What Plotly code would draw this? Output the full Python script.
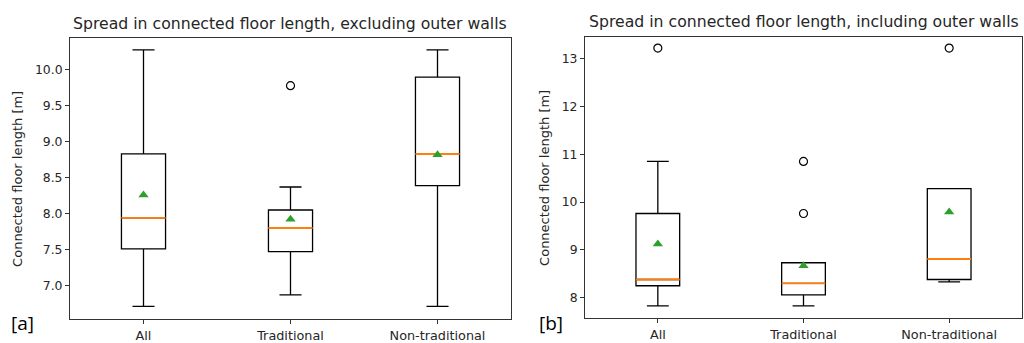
import plotly.graph_objects as go

categories = ["All", "Traditional", "Non-traditional"]
positions = [1, 2, 3]

# Panel [a]: excluding outer walls
excl_q1 = [7.51, 7.47, 8.39]
excl_median = [7.94, 7.80, 8.83]
excl_q3 = [8.83, 8.05, 9.90]
excl_low = [6.71, 6.87, 6.71]
excl_high = [10.28, 8.37, 10.28]
excl_mean = [8.26, 7.92, 8.82]
excl_outliers = [[], [9.78], []]

# Panel [b]: including outer walls
incl_q1 = [8.25, 8.06, 8.38]
incl_median = [8.38, 8.30, 8.81]
incl_q3 = [9.76, 8.73, 10.28]
incl_low = [7.83, 7.83, 8.33]
incl_high = [10.85, 8.73, 10.28]
incl_mean = [9.12, 8.67, 9.79]
incl_outliers = [[13.22], [10.85, 9.76], [13.22]]

W, H = 1024, 343
BOXW = 0.3
FONT = "DejaVu Sans"
AX = "#333333"

fig = go.Figure()


def add_panel(xa, ya, q1, med, q3, lo, hi, mean, outl):
    fig.add_trace(go.Box(
        x=positions, q1=q1, median=med, q3=q3, lowerfence=lo, upperfence=hi,
        width=BOXW, whiskerwidth=0.5, fillcolor="rgba(0,0,0,0)",
        line=dict(color="black", width=1.3), boxpoints=False,
        xaxis=xa, yaxis=ya, showlegend=False, hoverinfo="skip"))
    mx, my = [], []
    for p, m in zip(positions, med):
        mx += [p - BOXW / 2, p + BOXW / 2, None]
        my += [m, m, None]
    fig.add_trace(go.Scatter(x=mx, y=my, mode="lines",
                             line=dict(color="#ff7f0e", width=1.9),
                             xaxis=xa, yaxis=ya, showlegend=False))
    fig.add_trace(go.Scatter(x=positions, y=mean, mode="markers",
                             marker=dict(symbol="triangle-up", size=9, color="#2ca02c"),
                             xaxis=xa, yaxis=ya, showlegend=False))
    ox, oy = [], []
    for p, vals in zip(positions, outl):
        for v in vals:
            ox.append(p)
            oy.append(v)
    fig.add_trace(go.Scatter(x=ox, y=oy, mode="markers",
                             marker=dict(symbol="circle-open", size=8, color="black",
                                         line=dict(width=1.2)),
                             xaxis=xa, yaxis=ya, showlegend=False))


add_panel("x", "y", excl_q1, excl_median, excl_q3, excl_low, excl_high, excl_mean, excl_outliers)
add_panel("x2", "y2", incl_q1, incl_median, incl_q3, incl_low, incl_high, incl_mean, incl_outliers)

ydom = [1 - 323 / H, 1 - 38 / H]
common_x = dict(range=[0.5, 3.5], tickvals=positions, ticktext=categories,
                ticks="outside", ticklen=4, tickcolor=AX, showline=True, mirror=True,
                linecolor=AX, linewidth=1, showgrid=False, zeroline=False,
                tickfont=dict(family=FONT, size=12.8, color="#262626"))
common_y = dict(ticks="outside", ticklen=4, tickcolor=AX, showline=True, mirror=True,
                linecolor=AX, linewidth=1, showgrid=False, zeroline=False,
                tickfont=dict(family=FONT, size=12.4, color="#262626"))

fig.update_layout(
    width=W, height=H,
    margin=dict(l=0, r=0, t=0, b=0),
    paper_bgcolor="white", plot_bgcolor="white",
    xaxis=dict(domain=[70 / W, 511 / W], anchor="y", **common_x),
    yaxis=dict(domain=ydom, anchor="x", range=[6.53, 10.45],
               tickvals=[7.0, 7.5, 8.0, 8.5, 9.0, 9.5, 10.0], tickformat=".1f", **common_y),
    xaxis2=dict(domain=[585 / W, 1022 / W], anchor="y2", **common_x),
    yaxis2=dict(domain=[1 - 322 / H, 1 - 37 / H], anchor="x2", range=[7.57, 13.46],
                tickvals=[8, 9, 10, 11, 12, 13], **common_y),
)

annots = [
    dict(text="Spread in connected floor length, excluding outer walls",
         x=290 / W, y=1 - 24 / H, font=dict(family=FONT, size=15.7, color="#262626")),
    dict(text="Spread in connected floor length, including outer walls",
         x=804 / W, y=1 - 22 / H, font=dict(family=FONT, size=15.7, color="#262626")),
    dict(text="Connected floor length [m]", x=18 / W, y=1 - 181 / H, textangle=-90,
         font=dict(family=FONT, size=13, color="#262626")),
    dict(text="Connected floor length [m]", x=545 / W, y=1 - 180 / H, textangle=-90,
         font=dict(family=FONT, size=13, color="#262626")),
    dict(text="[a]", x=22 / W, y=1 - 327 / H, font=dict(family="Open Sans", size=19, color="black")),
    dict(text="[b]", x=551 / W, y=1 - 327 / H, font=dict(family="Open Sans", size=19, color="black")),
]
for a in annots:
    fig.add_annotation(xref="paper", yref="paper", showarrow=False,
                       xanchor="center", yanchor="middle", **a)

fig.write_html("out.html")
